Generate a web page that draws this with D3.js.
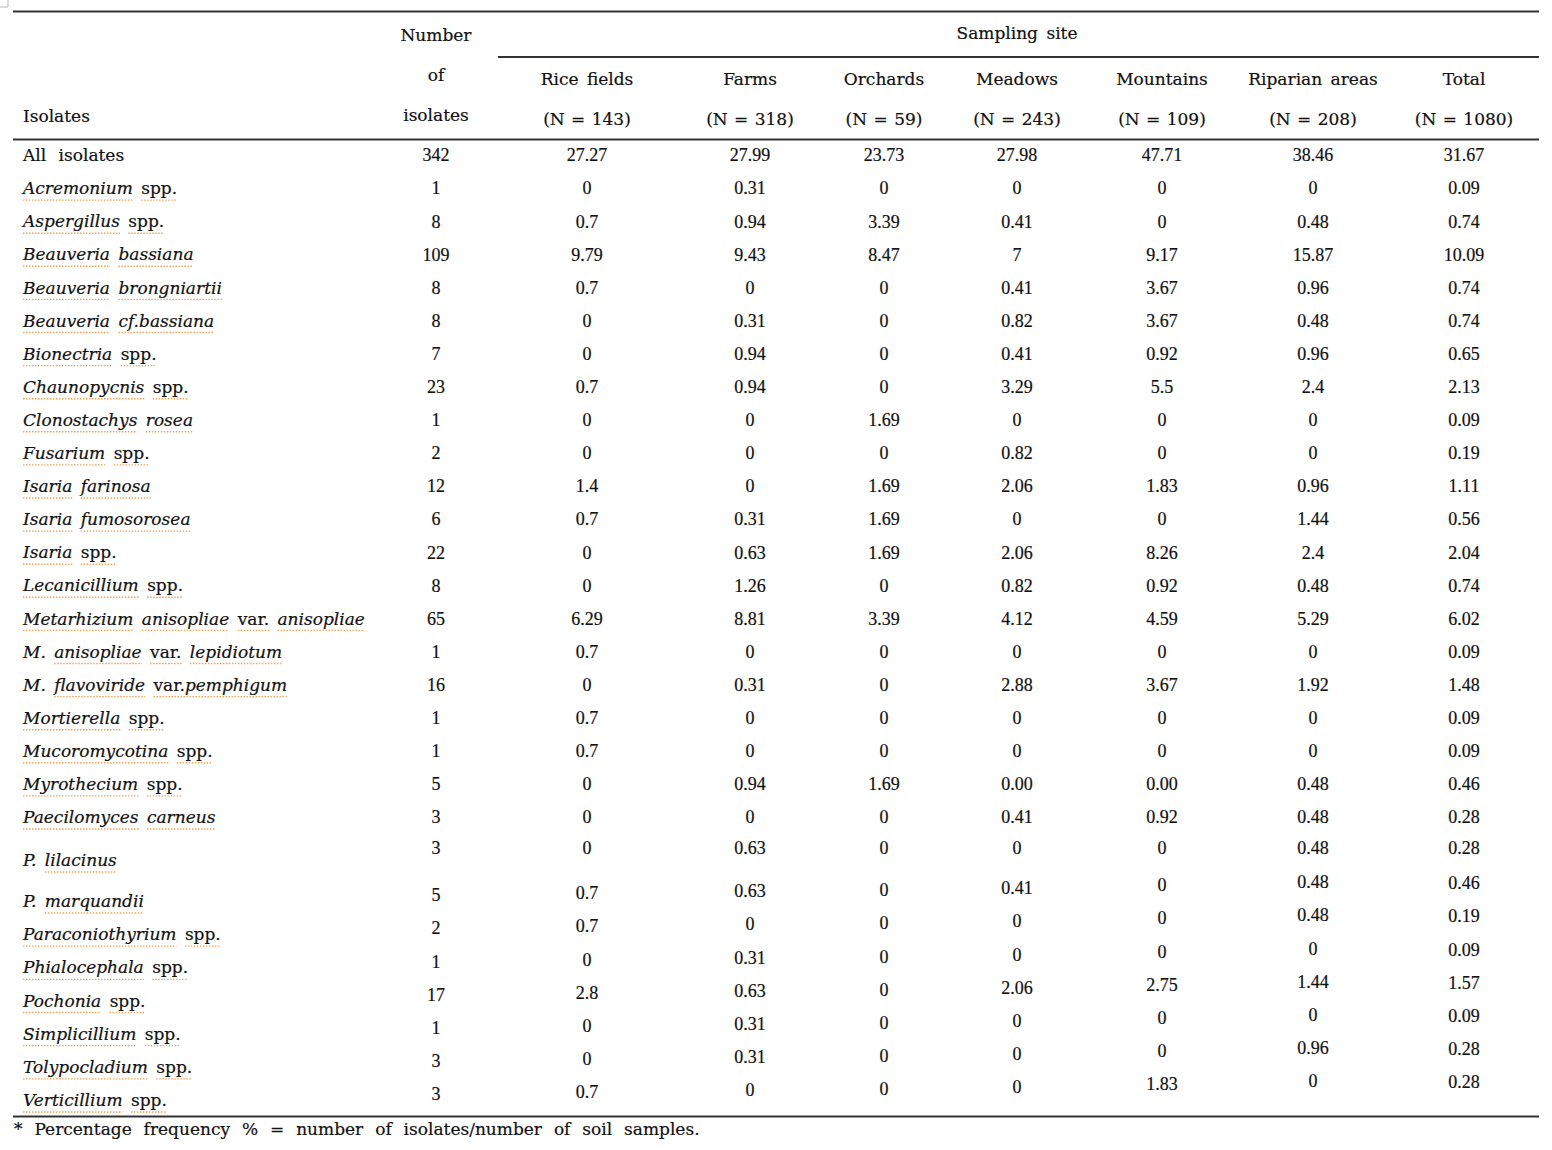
<!DOCTYPE html>
<meta charset="utf-8">
<script src="https://d3js.org/d3.v7.min.js"></script>
<style>
  body { margin: 0; background: #fff; }
  text { fill: #111; stroke: #111; stroke-width: 0.2; }
</style>
<div id="my_table"></div>
<script>

// table data
var isolates = [
  "All isolates", "Acremonium spp.", "Aspergillus spp.", "Beauveria bassiana",
  "Beauveria brongniartii", "Beauveria cf.bassiana", "Bionectria spp.",
  "Chaunopycnis spp.", "Clonostachys rosea", "Fusarium spp.", "Isaria farinosa",
  "Isaria fumosorosea", "Isaria spp.", "Lecanicillium spp.",
  "Metarhizium anisopliae var. anisopliae", "M. anisopliae var. lepidiotum",
  "M. flavoviride var.pemphigum", "Mortierella spp.", "Mucoromycotina spp.",
  "Myrothecium spp.", "Paecilomyces carneus", "P. lilacinus", "P. marquandii",
  "Paraconiothyrium spp.", "Phialocephala spp.", "Pochonia spp.",
  "Simplicillium spp.", "Tolypocladium spp.", "Verticillium spp."
];
var numIsolates = [342, 1, 8, 109, 8, 8, 7, 23, 1, 2, 12, 6, 22, 8, 65, 1, 16, 1, 1, 5, 3, 3, 5, 2, 1, 17, 1, 3, 3];

var sites = ["Rice fields", "Farms", "Orchards", "Meadows", "Mountains", "Riparian areas", "Total"];
var siteN = [143, 318, 59, 243, 109, 208, 1080];

var riceFields = ["27.27","0","0.7","9.79","0.7","0","0","0.7","0","0","1.4","0.7","0","0","6.29","0.7","0","0.7","0.7","0","0","0","0.7","0.7","0","2.8","0","0","0.7"];
var farms      = ["27.99","0.31","0.94","9.43","0","0.31","0.94","0.94","0","0","0","0.31","0.63","1.26","8.81","0","0.31","0","0","0.94","0","0.63","0.63","0","0.31","0.63","0.31","0.31","0"];
var orchards   = ["23.73","0","3.39","8.47","0","0","0","0","1.69","0","1.69","1.69","1.69","0","3.39","0","0","0","0","1.69","0","0","0","0","0","0","0","0","0"];
var meadows    = ["27.98","0","0.41","7","0.41","0.82","0.41","3.29","0","0.82","2.06","0","2.06","0.82","4.12","0","2.88","0","0","0.00","0.41","0","0.41","0","0","2.06","0","0","0"];
var mountains  = ["47.71","0","0","9.17","3.67","3.67","0.92","5.5","0","0","1.83","0","8.26","0.92","4.59","0","3.67","0","0","0.00","0.92","0","0","0","0","2.75","0","0","1.83"];
var riparian   = ["38.46","0","0.48","15.87","0.96","0.48","0.96","2.4","0","0","0.96","1.44","2.4","0.48","5.29","0","1.92","0","0","0.48","0.48","0.48","0.48","0.48","0","1.44","0","0.96","0"];
var total      = ["31.67","0.09","0.74","10.09","0.74","0.74","0.65","2.13","0.09","0.19","1.11","0.56","2.04","0.74","6.02","0.09","1.48","0.09","0.09","0.46","0.28","0.28","0.46","0.19","0.09","1.57","0.09","0.28","0.28"];

var siteValues = [riceFields, farms, orchards, meadows, mountains, riparian, total];
var footnote = "* Percentage frequency % = number of isolates/number of soil samples.";

// layout
var width = 1552, height = 1150;
var left = 13, right = 1539;
var wordFont = "'DejaVu Serif', serif";
var numFont = "'Liberation Serif', 'Times New Roman', serif";

var svg = d3.select("#my_table")
  .append("svg")
    .attr("width", width)
    .attr("height", height);

// column centres (number of isolates + sites)
var colKeys = ["num"].concat(sites);
var x = d3.scaleOrdinal()
  .domain(colKeys)
  .range([436, 587, 750, 884, 1017, 1162, 1313, 1464]);

// rows: the two P. rows are taller in the source table
var yLabel = d3.scaleLinear()
  .domain([0, 20, 21, 22, 28])
  .range([156, 818, 861, 902, 1101]);

// the lower part of the table drifts a bit upwards to the right
var lowShift = [-7, -9, -11, -12, -14, -17, -20, -19];
function yValue(i, c) {
  if (i <= 20) return yLabel(i) - 1;
  if (i === 21) return yLabel(i) - 13;
  return yLabel(i) + lowShift[c];
}

// rules
function rule(x1, x2, y, w) {
  svg.append("line")
    .attr("x1", x1).attr("x2", x2)
    .attr("y1", y).attr("y2", y)
    .attr("stroke", "#333")
    .attr("stroke-width", w);
}
rule(left, right, 11.5, 2);
rule(498, right, 57, 2);
rule(left, right, 139.5, 2);
rule(left, right, 1116.5, 2);

// little corner mark top left
svg.append("path")
  .attr("d", "M8,0V7H0")
  .attr("fill", "none")
  .attr("stroke", "#bbb")
  .attr("stroke-width", 1);

// header
var head = svg.append("g")
  .attr("font-family", wordFont)
  .attr("font-size", 17)
  .attr("word-spacing", 3);

head.append("text").attr("x", 23).attr("y", 117).attr("dy", "0.3em").text("Isolates");

["Number", "of", "isolates"].forEach(function(t, k) {
  head.append("text")
    .attr("x", x("num"))
    .attr("y", 36 + k * 40)
    .attr("dy", "0.3em")
    .attr("text-anchor", "middle")
    .text(t);
});

head.append("text")
  .attr("x", 1017).attr("y", 34).attr("dy", "0.3em")
  .attr("text-anchor", "middle")
  .text("Sampling site");

head.selectAll(".site")
  .data(sites)
  .enter().append("text")
    .attr("class", "site")
    .attr("x", function(d) { return x(d); })
    .attr("y", 80)
    .attr("dy", "0.3em")
    .attr("text-anchor", "middle")
    .text(function(d) { return d; });

head.selectAll(".siten")
  .data(sites)
  .enter().append("text")
    .attr("class", "siten")
    .attr("x", function(d) { return x(d); })
    .attr("y", 120)
    .attr("dy", "0.3em")
    .attr("text-anchor", "middle")
    .attr("word-spacing", 1)
    .text(function(d, i) { return "(N = " + siteN[i] + ")"; });

// row labels, italic except spp./var.
function splitLabel(s) {
  if (s === "All isolates") return [{t: s, it: false}];
  var parts = [];
  s.split(/(spp\.|var\.)/).forEach(function(p) {
    if (p === "") return;
    parts.push({t: p, it: !(p === "spp." || p === "var.")});
  });
  return parts;
}

var labels = svg.append("g")
  .attr("font-family", wordFont)
  .attr("font-size", 17)
  .attr("word-spacing", 3);

var squiggles = svg.append("g");

isolates.forEach(function(name, i) {
  var txt = labels.append("text")
    .attr("x", 23)
    .attr("y", yLabel(i))
    .attr("dy", "0.3em");
  if (i === 0) txt.attr("word-spacing", 7);
  var parts = splitLabel(name);
  parts.forEach(function(p) {
    txt.append("tspan")
      .attr("font-style", p.it ? "italic" : "normal")
      .text(p.t);
  });
  if (i === 0) return;
  // spell-check style dotted underline below the names
  var node = txt.node();
  var n = node.getNumberOfChars();
  var words = [], start = -1;
  for (var c = 0; c <= n; c++) {
    var ch = c < n ? name.charAt(c) : " ";
    if (ch !== " " && start < 0) start = c;
    if (ch === " " && start >= 0) { words.push([start, c - 1]); start = -1; }
  }
  words.forEach(function(w) {
    var word = name.slice(w[0], w[1] + 1);
    if (word === "M." || word === "P.") return;
    var x0 = node.getStartPositionOfChar(w[0]).x;
    var x1 = node.getEndPositionOfChar(w[1]).x;
    squiggles.append("line")
      .attr("x1", x0).attr("x2", x1)
      .attr("y1", yLabel(i) + 11).attr("y2", yLabel(i) + 11)
      .attr("stroke", "#eea55a")
      .attr("stroke-width", 1.4)
      .attr("stroke-dasharray", "1.5,1.5");
  });
});

// values
var cells = svg.append("g")
  .attr("font-family", numFont)
  .attr("font-size", 18)
  .attr("text-anchor", "middle");

cells.selectAll(".num")
  .data(numIsolates)
  .enter().append("text")
    .attr("class", "num")
    .attr("x", x("num"))
    .attr("y", function(d, i) { return yValue(i, 0); })
    .attr("dy", "0.35em")
    .text(function(d) { return d; });

siteValues.forEach(function(col, c) {
  cells.selectAll(".v" + c)
    .data(col)
    .enter().append("text")
      .attr("class", "v" + c)
      .attr("x", x(sites[c]))
      .attr("y", function(d, i) { return yValue(i, c + 1); })
      .attr("dy", "0.35em")
      .text(function(d) { return d; });
});

// footnote
svg.append("text")
  .attr("x", 14)
  .attr("y", 1130)
  .attr("dy", "0.3em")
  .attr("font-family", wordFont)
  .attr("font-size", 17)
  .attr("word-spacing", 6.5)
  .text(footnote);

</script>
